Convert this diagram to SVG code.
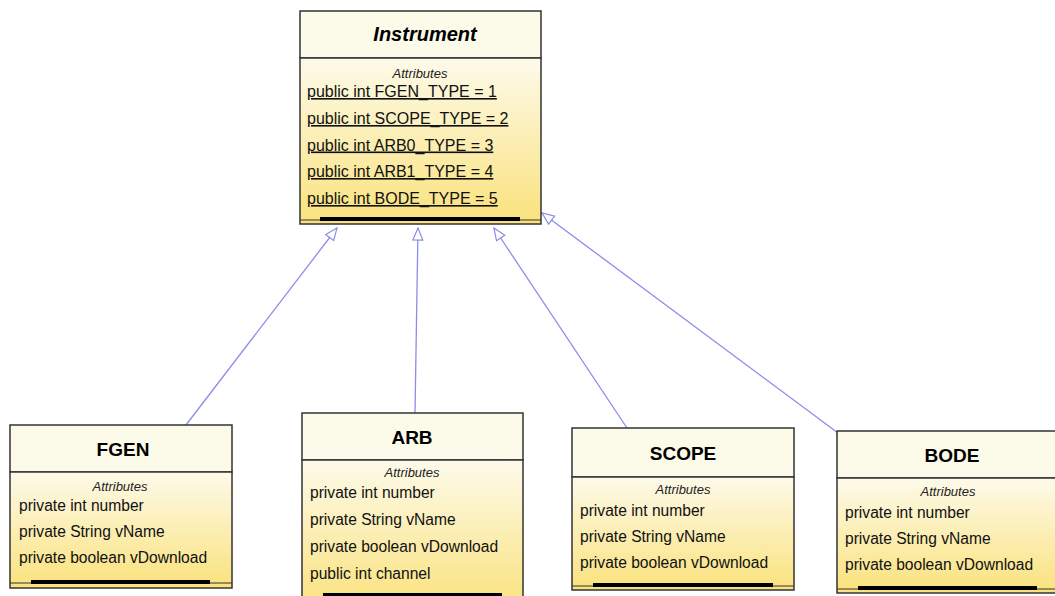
<svg xmlns="http://www.w3.org/2000/svg" width="1055" height="596" viewBox="0 0 1055 596">
<style>
.box{stroke:#333;stroke-width:1.5}
.hdr{fill:#fcfae8}
.body{fill:url(#g)}
.div{stroke:#333;stroke-width:1.3;fill:none}
.bar{stroke:#000;stroke-width:4}
.thin{stroke:#333;stroke-width:1}
.title{font-family:"Liberation Sans",Arial,sans-serif;font-weight:bold;font-size:19px;fill:#000;text-anchor:middle}
.ititle{font-style:italic;font-size:20px}
.sec{font-family:"Liberation Sans",Arial,sans-serif;font-style:italic;font-size:13px;fill:#222;text-anchor:middle}
.attr{font-family:"Liberation Sans",Arial,sans-serif;font-size:15.6px;fill:#111}
.st{font-size:16px;text-decoration:underline}
.conn{stroke:#8c8cea;stroke-width:1.3;fill:none;marker-end:url(#tri)}
</style>
<defs>
<linearGradient id="g" x1="0" y1="0" x2="0" y2="1">
<stop offset="0" stop-color="#fdfaea"/>
<stop offset="1" stop-color="#fae27c"/>
</linearGradient>
<marker id="tri" markerUnits="userSpaceOnUse" markerWidth="14" markerHeight="12" refX="13" refY="5.5" orient="auto">
<path d="M1,0.5 L13,5.5 L1,10.5 z" fill="#fff" stroke="#8c8cea" stroke-width="1.2"/>
</marker>
</defs>
<rect width="1055" height="596" fill="#fff"/>

<g id="connectors">
<path class="conn" d="M186,425 L337,228"/>
<path class="conn" d="M415,413 L418,228"/>
<path class="conn" d="M627,428 L494,228"/>
<path class="conn" d="M838,433 L542,213"/>
</g>

<g id="Instrument">
<rect class="box hdr" x="300" y="11" width="241" height="47"/>
<rect class="box body" x="300" y="58" width="241" height="166"/>
<text class="title ititle" x="425" y="41">Instrument</text>
<text class="sec" x="420" y="78">Attributes</text>
<text class="attr st" x="307" y="97">public int FGEN_TYPE = 1</text>
<text class="attr st" x="307" y="124">public int SCOPE_TYPE = 2</text>
<text class="attr st" x="307" y="150.5">public int ARB0_TYPE = 3</text>
<text class="attr st" x="307" y="177">public int ARB1_TYPE = 4</text>
<text class="attr st" x="307" y="204">public int BODE_TYPE = 5</text>
<line class="thin" x1="300" y1="220" x2="541" y2="220"/>
<line class="bar" x1="320" y1="219" x2="520" y2="219"/>
</g>

<g id="FGEN">
<rect class="box hdr" x="10" y="425" width="222" height="47"/>
<rect class="box body" x="10" y="472" width="222" height="116"/>
<text class="title" x="123" y="456">FGEN</text>
<text class="sec" x="120" y="491">Attributes</text>
<text class="attr" x="19" y="511">private int number</text>
<text class="attr" x="19" y="537">private String vName</text>
<text class="attr" x="19" y="563">private boolean vDownload</text>
<line class="thin" x1="10" y1="583" x2="232" y2="583"/>
<line class="bar" x1="31" y1="582" x2="210" y2="582"/>
</g>

<g id="ARB">
<rect class="box hdr" x="302" y="413" width="221" height="47"/>
<rect class="box body" x="302" y="460" width="221" height="150"/>
<text class="title" x="412" y="444">ARB</text>
<text class="sec" x="412" y="477">Attributes</text>
<text class="attr" x="310" y="498">private int number</text>
<text class="attr" x="310" y="525">private String vName</text>
<text class="attr" x="310" y="552">private boolean vDownload</text>
<text class="attr" x="310" y="579">public int channel</text>
<line class="bar" x1="323" y1="595" x2="502" y2="595"/>
</g>

<g id="SCOPE">
<rect class="box hdr" x="572" y="428" width="222" height="49"/>
<rect class="box body" x="572" y="477" width="222" height="113"/>
<text class="title" x="683" y="460">SCOPE</text>
<text class="sec" x="683" y="494">Attributes</text>
<text class="attr" x="580" y="515.5">private int number</text>
<text class="attr" x="580" y="541.5">private String vName</text>
<text class="attr" x="580" y="567.5">private boolean vDownload</text>
<line class="thin" x1="572" y1="586" x2="794" y2="586"/>
<line class="bar" x1="593" y1="585" x2="773" y2="585"/>
</g>

<g id="BODE">
<rect class="box hdr" x="837" y="431" width="224" height="47"/>
<rect class="box body" x="837" y="478" width="224" height="115"/>
<text class="title" x="952" y="462">BODE</text>
<text class="sec" x="948" y="496">Attributes</text>
<text class="attr" x="845" y="517.5">private int number</text>
<text class="attr" x="845" y="543.5">private String vName</text>
<text class="attr" x="845" y="570">private boolean vDownload</text>
<line class="thin" x1="837" y1="589" x2="1061" y2="589"/>
<line class="bar" x1="858" y1="588" x2="1037" y2="588"/>
</g>
</svg>
